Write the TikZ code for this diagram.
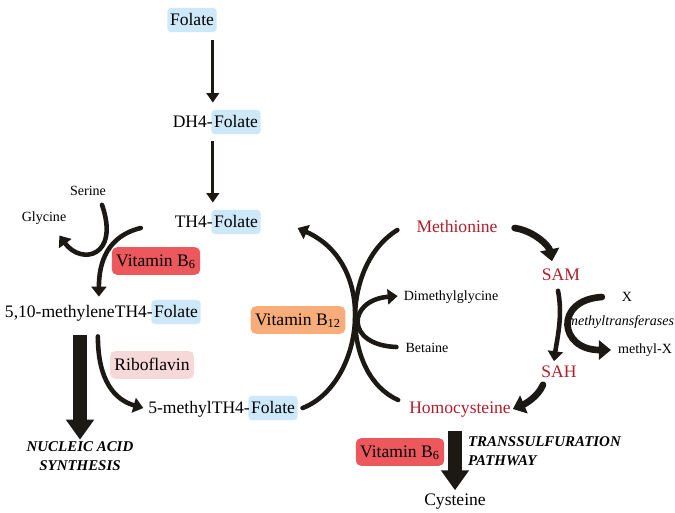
\documentclass[tikz,border=0pt]{standalone}
\usepackage{fontspec}
\setmainfont{Liberation Serif}
\usetikzlibrary{positioning,arrows.meta}

\definecolor{folblue}{RGB}{205,233,249}
\definecolor{bsixred}{RGB}{236,88,92}
\definecolor{btworange}{RGB}{248,172,122}
\definecolor{ribopink}{RGB}{247,216,216}
\definecolor{metred}{RGB}{176,30,42}
\definecolor{arrowblk}{RGB}{28,24,20}

\tikzset{
    txt/.style={inner sep=1pt, text height=1.6ex, text depth=0.3ex,
        font=\fontsize{10}{12}\selectfont},
    pre/.style={txt, inner xsep=0pt, outer sep=0pt},
    small/.style={inner sep=1pt, font=\fontsize{8}{10}\selectfont},
    fol/.style={txt, fill=folblue, rounded corners=2pt, inner xsep=1.5pt, inner ysep=2.5pt, outer sep=0pt},
    vit/.style={txt, rounded corners=3pt, inner xsep=2.5pt, inner ysep=3.5pt},
    met/.style={txt, text=metred},
    pathway/.style={inner sep=1pt, font=\fontsize{8.5}{10.5}\selectfont\bfseries\itshape},
    thinflow/.style={draw=arrowblk, line width=1.6pt, -{Triangle[length=0.19cm,width=0.25cm]}},
    curveflow/.style={draw=arrowblk, line width=2.6pt, line cap=round,
        -{Triangle[length=0.2cm,width=0.3cm]}},
    thickflow/.style={draw=arrowblk, line width=3.8pt, line cap=round,
        -{Triangle[length=0.24cm,width=0.38cm]}},
    plaincurve/.style={draw=arrowblk, line width=2.6pt, line cap=round},
    bigflow/.style={draw=arrowblk, line width=0.29cm, -{Triangle[length=0.4cm,width=0.54cm]}}
}

\begin{document}
\begin{tikzpicture}[x=0.02cm, y=-0.02cm]
    \useasboundingbox (0,0) rectangle (675,512);

    % фолаты
    \node[fol] (folate) at (192,20) {Folate};
    \node[fol] (dhf) at (236,122) {Folate};
    \node[pre, left=-0.8pt of dhf] (dhfpre) {DH4-};
    \node[fol] (thf) at (236,222) {Folate};
    \node[pre, left=-0.8pt of thf] (thfpre) {TH4-};
    \node[fol] (mthf) at (176,312) {Folate};
    \node[pre, left=-0.8pt of mthf] (mthfpre) {5,10-methyleneTH4-};
    \node[fol] (methyl) at (273,408) {Folate};
    \node[pre, left=-0.8pt of methyl] (methylpre) {5-methylTH4-};

    \draw[thinflow] ([shift={(0,8)}]folate.south -| dhfpre.east) -- ([shift={(0,-10)}]dhfpre.north east);
    \draw[thinflow] ([shift={(0,10)}]dhfpre.south east) -- ([shift={(0,-10)}]thfpre.north east);

    % серин, глицин
    \node[small] (serine) at (88,191) {Serine};
    \node[small] (glycine) at (44,218) {Glycine};
    \node[vit, fill=bsixred] (bsixa) at (156,261) {Vitamin B\textsubscript{6}};
    \draw[curveflow] ([shift={(14,7)}]serine.south) .. controls +(18,52) and +(22,30) .. ([shift={(-9,9)}]glycine.south east);
    \draw[curveflow] ([shift={(-34,6)}]thfpre.west) .. controls +(-33,8) and +(0,-35) .. ([shift={(20,-6)}]mthfpre.north);

    % синтез нуклеиновых кислот
    \node[pathway, align=center] (nucleic) at (80,456) {NUCLEIC ACID\\SYNTHESIS};
    \draw[bigflow] ([shift={(0,14)}]mthfpre.south -| nucleic.north) -- (nucleic.north);

    \node[vit, fill=ribopink] (ribo) at (152,365) {Riboflavin};
    \draw[curveflow] ([shift={(19,15)}]mthfpre.south) .. controls +(0,45) and +(-28,-8) .. ([shift={(-5,0)}]methylpre.west);

    % метиониновый цикл
    \node[met] (met) at (457,227) {Methionine};
    \node[met] (hcy) at (460,408) {Homocysteine};
    \node[met] (sam) at (561,275) {SAM};
    \node[met] (sah) at (559,372) {SAH};
    \node[small] (dmg) at (451,297) {Dimethylglycine};
    \node[small] (betaine) at (427,348) {Betaine};
    \node[vit, fill=btworange] (btwelve) at (298,320) {Vitamin B\textsubscript{12}};

    \draw[curveflow] ([shift={(5,0)}]methyl.east) .. controls +(60,-23) and +(83,37) .. ([shift={(37,6)}]thf.east);
    \draw[plaincurve] ([shift={(-9,-8)}]hcy.west) .. controls +(-57,-25) and +(-57,35) .. ([shift={(-17,3)}]met.west);
    \draw[curveflow] ([shift={(-7,-1)}]betaine.west) .. controls +(-52,-2) and +(-50,4) .. ([shift={(-4,-1)}]dmg.west);

    \draw[thickflow] ([shift={(15,1)}]met.east) .. controls +(20,3) and +(-3,-15) .. ([shift={(-9,-4)}]sam.north);
    \draw[curveflow] ([shift={(-3,6)}]sam.south) .. controls +(5,25) and +(3,-22) .. ([shift={(-5,-1)}]sah.north);

    \node[small] (x) at (627,297) {X};
    \node[small] (methylx) at (645,350) {methyl-X};
    \node[small, font=\fontsize{8}{10}\selectfont\itshape] (mtase) at (621,322) {methyltransferases};
    \draw[thickflow] ([shift={(-18,0)}]x.west) .. controls +(-48,3) and +(-52,0) .. ([shift={(-5,0)}]methylx.west);

    \draw[thickflow] ([shift={(-16,3)}]sah.south) .. controls +(-5,12) and +(12,-5) .. ([shift={(0,1)}]hcy.east);

    % транссульфурация
    \node[txt] (cys) at (455,500) {Cysteine};
    \node[vit, fill=bsixred] (bsixb) at (400,452) {Vitamin B\textsubscript{6}};
    \node[pathway, align=left, anchor=west] (trans) at (466,451) {TRANSSULFURATION\\PATHWAY};
    \draw[bigflow] ([shift={(0,13)}]hcy.south -| cys.north) -- (cys.north);
\end{tikzpicture}
\end{document}
